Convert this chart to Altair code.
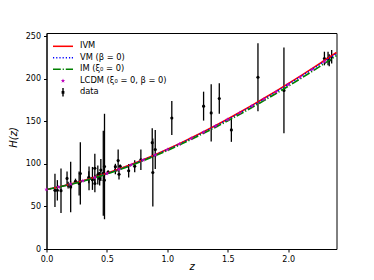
import altair as alt
import pandas as pd

# ---- observational H(z) data (z, H, sigma) ----
z_data = [0.07, 0.09, 0.12, 0.17, 0.179, 0.199, 0.2, 0.27, 0.28, 0.352, 0.3802, 0.4,
          0.4004, 0.4247, 0.4497, 0.47, 0.4783, 0.48, 0.593, 0.68, 0.781, 0.875, 0.88,
          0.9, 1.037, 1.3, 1.363, 1.43, 1.53, 1.75, 1.965,
          0.24, 0.35, 0.38, 0.43, 0.44, 0.51, 0.57, 0.57, 0.6, 0.61, 0.73,
          2.30, 2.33, 2.34, 2.36]
H_data = [69, 69, 68.6, 83, 75, 75, 72.9, 77, 88.8, 83, 83, 95,
          77, 87.1, 92.8, 89, 80.9, 97, 104, 92, 105, 125, 90,
          117, 154, 168, 160, 177, 140, 202, 186.5,
          79.7, 84.4, 81.5, 86.5, 82.6, 90.4, 92.4, 96.8, 87.9, 97.3, 97.3,
          224, 224, 222, 226]
sig_data = [19.6, 12, 26.2, 8, 4, 5, 29.6, 14, 36.6, 14, 13.5, 17,
            10.2, 11.2, 12.9, 50, 9, 62, 13, 8, 12, 17, 40,
            23, 20, 17, 33.6, 18, 14, 40, 50.4,
            3.0, 7, 1.9, 3.7, 7.8, 1.9, 4.5, 3.4, 6.1, 2.1, 7,
            8, 8, 7, 8]

# ---- model curves ----
z_curve = [0.0, 0.1, 0.2, 0.3, 0.4, 0.5, 0.6, 0.7, 0.8, 0.9, 1.0, 1.1, 1.2,
           1.3, 1.4, 1.5, 1.6, 1.7, 1.8, 1.9, 2.0, 2.1, 2.2, 2.3, 2.4]
H_ivm = [70.0, 72.9, 76.3, 80.2, 84.4, 89.0, 94.0, 99.3, 105.0, 110.9, 117.3, 123.9, 130.8,
         137.9, 145.3, 152.9, 160.8, 168.9, 177.2, 185.7, 194.4, 203.3, 212.4, 221.7, 231.1]
H_vm = [70.0, 72.9, 76.2, 80.0, 84.1, 88.7, 93.6, 98.9, 104.6, 110.5, 116.8, 123.4, 130.2,
        137.3, 144.6, 152.2, 160.0, 168.1, 176.4, 184.8, 193.5, 202.3, 211.3, 220.5, 229.8]
H_im = [70.0, 72.8, 76.0, 79.7, 83.7, 88.2, 93.0, 98.2, 103.8, 109.6, 115.8, 122.3, 129.0,
        136.0, 143.2, 150.7, 158.4, 166.4, 174.5, 182.8, 191.4, 200.1, 209.0, 218.1, 227.4]
z_lcdm = [0.0, 0.1, 0.2, 0.3, 0.4, 0.5, 0.6, 0.7, 0.8, 0.9, 1.0, 1.1, 1.2,
          1.3, 1.4, 1.5, 1.6, 1.7, 1.8, 1.9, 2.0, 2.1, 2.2, 2.3]
H_lcdm = [70.0, 72.9, 76.2, 80.0, 84.1, 88.7, 93.6, 98.9, 104.6, 110.5, 116.8, 123.4, 130.2,
          137.3, 144.6, 152.2, 160.0, 168.1, 176.3, 184.7, 193.4, 202.2, 211.2, 220.4]

legend_labels = ["IVM", "VM (β = 0)", "IM (ξ₀ = 0)", "LCDM (ξ₀ = 0, β = 0)", "data"]
legend_colors = ["#ff0000", "#0000ff", "#008000", "#bf00bf", "#000000"]

x_ticks = [0, 0.5, 1.0, 1.5, 2.0]
y_ticks = [0, 50, 100, 150, 200, 250]

# ---- symbol paths (styles) ----
def rect(x0, x1, y0, y1):
    return f"M{x0},{y0}L{x1},{y0}L{x1},{y1}L{x0},{y1}Z"

def star(r):
    pts = [(0, -1), (0.225, -0.309), (0.951, -0.309), (0.363, 0.118), (0.588, 0.809),
           (0, 0.382), (-0.588, 0.809), (-0.363, 0.118), (-0.951, -0.309), (-0.225, -0.309)]
    return "M" + "L".join(f"{px*r:.3f},{py*r:.3f}" for px, py in pts) + "Z"

h = 0.11
solid_path = rect(-1.43, 1.43, -h, h)
dotted_path = "".join(rect(s, s + 0.17, -h, h) for s in [-1.43, -0.973, -0.516, -0.059, 0.398, 0.855, 1.26])
dashdot_path = rect(-1.43, -0.316, -h, h) + rect(-0.045, 0.126, -h, h) + rect(0.397, 1.43, -h, h)
star_legend = star(0.34)
err_path = rect(-0.1, 0.1, -0.6, 0.6) + rect(-0.2, 0.2, -0.2, 0.2)
legend_shapes = [solid_path, dotted_path, dashdot_path, star_legend, err_path]

df = pd.DataFrame({"z": z_data, "H": H_data, "sig": sig_data})
df["lo"] = df["H"] - df["sig"]
df["hi"] = df["H"] + df["sig"]
curves = pd.DataFrame({"z": z_curve, "ivm": H_ivm, "vm": H_vm, "im": H_im})
lcdm = pd.DataFrame({"z": z_lcdm, "H": H_lcdm})
leg = pd.DataFrame({"series": legend_labels, "z": [z_curve[0]] * 5, "H": [H_ivm[0]] * 5})

xs = alt.Scale(domain=[0, 2.4], nice=False, zero=False)
ys = alt.Scale(domain=[0, 254], nice=False, zero=False)

xax = alt.Axis(values=x_ticks, format=".1f", title="z", titleFontStyle="italic",
               titleFontSize=10, titleFontWeight="normal", titleX=145, titleY=22,
               titleBaseline="bottom", titleAlign="center")
yax = alt.Axis(values=y_ticks, format="d", title="H(z)", titleFontStyle="italic",
               titleFontSize=10, titleFontWeight="normal", titleX=-33, titleY=104,
               titleAngle=270, titleBaseline="middle", titleAlign="center")

X = alt.X("z:Q", scale=xs, axis=xax)

bars = alt.Chart(df).mark_rule(color="black", strokeWidth=1.3).encode(
    x=X, y=alt.Y("lo:Q", scale=ys, axis=yax), y2="hi:Q")
pts = alt.Chart(df).mark_circle(color="black", size=10, opacity=1).encode(
    x="z:Q", y="H:Q")

line_ivm = alt.Chart(curves).mark_line(color="#ff0000", strokeWidth=1.6).encode(
    x="z:Q", y="ivm:Q")
line_vm = alt.Chart(curves).mark_line(color="#0000ff", strokeWidth=1.6,
                                      strokeDash=[1.2, 2.0]).encode(x="z:Q", y="vm:Q")
line_im = alt.Chart(curves).mark_line(color="#008000", strokeWidth=1.6,
                                      strokeDash=[7.8, 1.9, 1.2, 1.9]).encode(x="z:Q", y="im:Q")
stars = alt.Chart(lcdm).mark_point(shape=star(1), filled=True, color="#bf00bf",
                                   size=22, opacity=1, strokeWidth=0).encode(x="z:Q", y="H:Q")

lg = alt.Legend(orient="none", legendX=9.5, legendY=6.3, title=None, symbolSize=196,
                symbolStrokeWidth=0, symbolOpacity=1, labelFontSize=8.3, labelFont="DejaVu Sans",
                labelColor="black", labelOffset=10, rowPadding=0.5, padding=0, labelLimit=300)
dummy = alt.Chart(leg).mark_point(filled=True, opacity=0, size=0).encode(
    x="z:Q", y="H:Q",
    color=alt.Color("series:N", scale=alt.Scale(domain=legend_labels, range=legend_colors),
                    legend=lg, sort=legend_labels),
    shape=alt.Shape("series:N", scale=alt.Scale(domain=legend_labels, range=legend_shapes),
                    legend=lg, sort=legend_labels),
)

chart = alt.layer(bars, pts, line_ivm, line_vm, line_im, stars, dummy).properties(
    width=290, height=216,
    autosize=alt.AutoSizeParams(type="none"),
    padding={"left": 38.5, "top": 25, "right": 20, "bottom": 23},
).configure_view(stroke="black", strokeWidth=1).configure_axis(
    grid=False, domainColor="black", domainWidth=1, tickColor="black", tickWidth=1,
    tickSize=3, labelPadding=3, labelFont="DejaVu Sans", labelFontSize=8,
    labelColor="black", titleFont="DejaVu Sans", titleColor="black", labelFlush=False
)

chart.save("out.html", embed_options={"renderer": "svg", "actions": False})
